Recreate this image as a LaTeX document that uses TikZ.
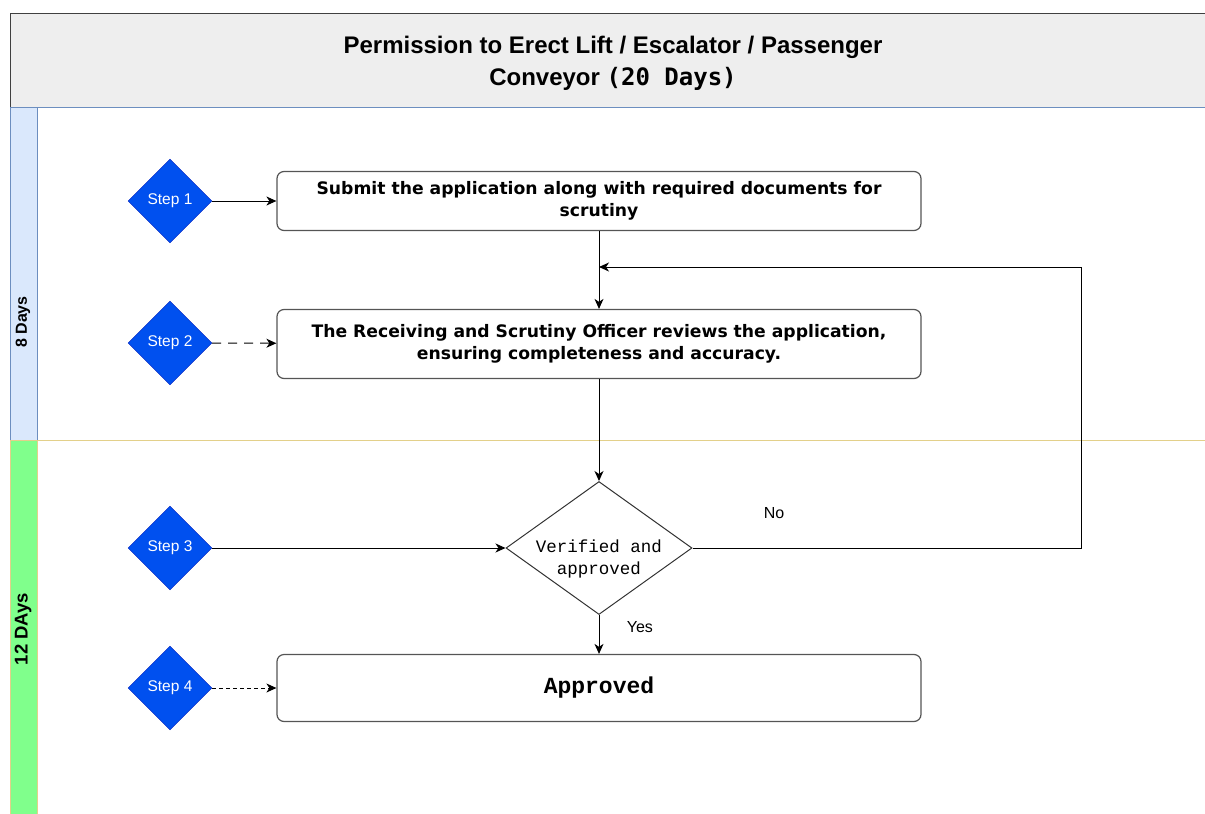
\documentclass[tikz,border=0pt]{standalone}
\usepackage{fontspec}
\setmainfont{Liberation Sans}
\newfontfamily\boxfont{DejaVu Sans}
\newfontfamily\codefont{Liberation Mono}
\newfontfamily\daysfont{DejaVu Sans Mono}
\usetikzlibrary{arrows.meta,shapes.geometric}

\definecolor{headgray}{HTML}{EEEEEE}
\definecolor{laneblue}{HTML}{DAE8FC}
\definecolor{laneblueedge}{HTML}{6C8EBF}
\definecolor{lanegreen}{RGB}{128,255,140}
\definecolor{lanegold}{HTML}{E3D08A}
\definecolor{stepblue}{HTML}{0050EF}
\definecolor{stepedge}{HTML}{001DBC}
\definecolor{boxedge}{HTML}{555555}

\begin{document}
\begin{tikzpicture}[x=1pt, y=-1pt,
  stepnode/.style={diamond, aspect=1, fill=stepblue, draw=stepedge,
    text=white, minimum width=84pt, minimum height=84pt, inner sep=0pt,
    font=\fontsize{15.5}{18}\selectfont},
  taskbox/.style={draw=boxedge, line width=1.2pt, rounded corners=7pt,
    minimum width=644pt, minimum height=59pt, align=center,
    font=\boxfont\bfseries\fontsize{17.2}{22.5}\selectfont},
  checknode/.style={diamond, draw=black!80, line width=1pt, aspect=1.4,
    minimum width=186pt, minimum height=133pt, inner sep=0pt},
  checktext/.style={align=center, font=\codefont\fontsize{17.5}{22}\selectfont},
  flow/.style={-{Stealth[length=10pt, width=9pt, inset=3pt]}, line width=1pt},
  note/.style={font=\fontsize{16}{18}\selectfont}]

  \useasboundingbox (0,0) rectangle (1205,814);

  % pool header and lanes
  \draw[fill=headgray, draw=black!75] (1210,13) -- (10,13) -- (10,107) -- (1210,107);
  \draw[laneblueedge] (10,107) -- (1210,107);
  \draw[fill=laneblue, draw=laneblueedge] (10,107) rectangle (37,440);
  \draw[fill=lanegreen, draw=lanegold] (10,440) rectangle (37,820);
  \draw[lanegold] (37,440) -- (1210,440);

  \node[align=center, font=\bfseries\fontsize{24}{32}\selectfont] (title) at (613,63)
    {Permission to Erect Lift / Escalator / Passenger\\
     Conveyor {\daysfont\fontsize{24}{32}\selectfont (20 Days)}};
  \node[rotate=90, font=\bfseries\fontsize{16}{18}\selectfont] (lane1) at (23,322) {8 Days};
  \node[rotate=90, font=\bfseries\fontsize{18.5}{20}\selectfont] (lane2) at (23,629) {12 DAys};

  % steps
  \node[stepnode] (s1) at (170,201) {Step 1};
  \node[stepnode] (s2) at (170,343) {Step 2};
  \node[stepnode] (s3) at (170,548) {Step 3};
  \node[stepnode] (s4) at (170,688) {Step 4};

  % tasks
  \node[taskbox] (b1) at (599,201)
    {Submit the application along with required documents for\\scrutiny};
  \node[taskbox, minimum height=69pt] (b2) at (599,344)
    {The Receiving and Scrutiny Officer reviews the application,\\
     ensuring completeness and accuracy.};
  \node[checknode, label={[checktext, yshift=-11pt]center:Verified and\\approved}]
    (chk) at (599,548) {};
  \node[taskbox, minimum height=67pt, font=\codefont\bfseries\fontsize{23}{26}\selectfont]
    (b3) at (599,688) {Approved};

  \coordinate (merge) at (599,267);

  % connectors
  \draw[flow] (s1) -- (b1);
  \draw[flow, dash pattern=on 9pt off 7pt] (s2) -- (b2);
  \draw[flow] (s3) -- (chk);
  \draw[flow, dash pattern=on 4pt off 3pt] (s4) -- (b3);
  \draw[flow] (b1) -- (b2);
  \draw[flow] (b2) -- (chk);
  \draw[flow] (chk) -- node[note, pos=0.3, right=24pt]{Yes} (b3);
  \draw[flow] (chk.east) -- node[note, pos=0.21, above=26pt]{No} (1081,548)
    -- (1081,267) -- (merge);

\end{tikzpicture}
\end{document}
